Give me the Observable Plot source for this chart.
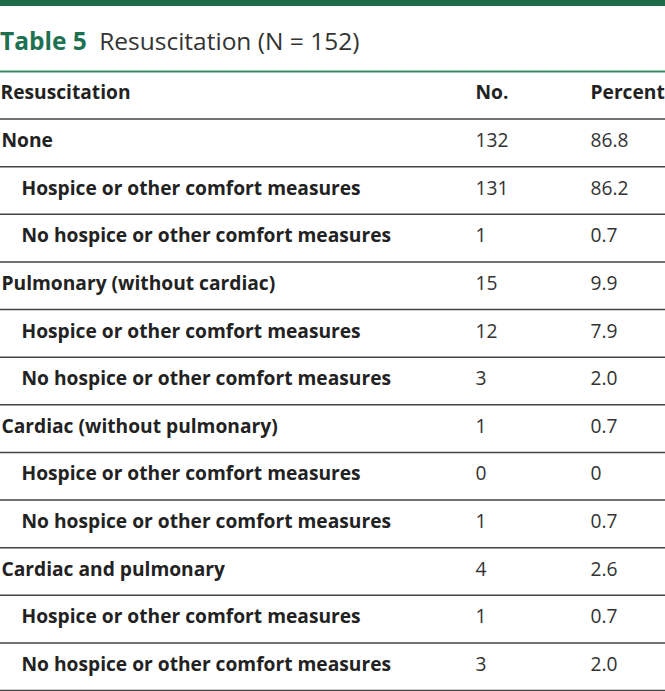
<!DOCTYPE html>
<html>
<head>
<meta charset="utf-8">
<script src="https://cdn.jsdelivr.net/npm/d3@7"></script>
<script src="https://cdn.jsdelivr.net/npm/@observablehq/plot@0.6"></script>
<style>
  html, body { margin: 0; padding: 0; background: #fff; }
  body { width: 665px; height: 691px; position: relative; overflow: hidden; font-family: "Open Sans", sans-serif; }
  .bar { position: absolute; left: 0; top: 0; width: 665px; height: 6px; background: #1c6b49; }
  .title { position: absolute; left: 0; top: 29px; font-size: 24.5px; line-height: 24px; color: #333; white-space: nowrap; }
  .title b { color: #1e7150; font-weight: 700; margin-right: 6px; }
  #chart { position: absolute; left: 0; top: 70px; }
</style>
</head>
<body>
<div class="bar"></div>
<div class="title"><b>Table 5</b> Resuscitation (N = 152)</div>
<div id="chart"></div>
<script>
const headers = ["Resuscitation", "No.", "Percent"];
const categories = [
  "None",
  "Hospice or other comfort measures",
  "No hospice or other comfort measures",
  "Pulmonary (without cardiac)",
  "Hospice or other comfort measures",
  "No hospice or other comfort measures",
  "Cardiac (without pulmonary)",
  "Hospice or other comfort measures",
  "No hospice or other comfort measures",
  "Cardiac and pulmonary",
  "Hospice or other comfort measures",
  "No hospice or other comfort measures"
];
const levels = [0, 1, 1, 0, 1, 1, 0, 1, 1, 0, 1, 1];
const counts = [132, 131, 1, 15, 12, 3, 1, 0, 1, 4, 1, 3];
const percents = [86.8, 86.2, 0.7, 9.9, 7.9, 2.0, 0.7, 0, 0.7, 2.6, 0.7, 2.0];

const rows = categories.map((c, i) => ({
  row: i + 1.5,
  label: c,
  level: levels[i],
  n: counts[i],
  pct: percents[i]
}));
const fmtPct = (v) => (v === 0 ? "0" : v.toFixed(1));
const nRows = rows.length + 1;

const font = "Open Sans";
const fs = 19.2;
const dy = -2;
const dark = "#222";
const num = "#333";

const chart = Plot.plot({
  width: 665,
  height: 621,
  marginTop: 1,
  marginBottom: 1,
  marginLeft: 0,
  marginRight: 0,
  y: { axis: null, domain: [0, nRows], reverse: true },
  x: { axis: null },
  style: { fontFamily: font, background: "#fff" },
  marks: [
    Plot.ruleY([0], { stroke: "#3a8a66", strokeWidth: 2 }),
    Plot.ruleY(d3.range(1, nRows + 1), { stroke: "#444", strokeWidth: 1.5 }),
    // header
    Plot.text([headers[0]], { y: () => 0.5, text: (d) => d, frameAnchor: "left", textAnchor: "start", dy, fontSize: fs, fontWeight: 700, fill: dark }),
    Plot.text([headers[1]], { y: () => 0.5, text: (d) => d, frameAnchor: "left", textAnchor: "start", dx: 475, dy, fontSize: fs, fontWeight: 700, fill: dark }),
    Plot.text([headers[2]], { y: () => 0.5, text: (d) => d, frameAnchor: "left", textAnchor: "start", dx: 590, dy, fontSize: fs, fontWeight: 700, fill: dark }),
    // labels
    Plot.text(rows.filter((d) => d.level === 0), { y: "row", text: "label", frameAnchor: "left", textAnchor: "start", dx: 1, dy, fontSize: fs, fontWeight: 700, fill: dark }),
    Plot.text(rows.filter((d) => d.level === 1), { y: "row", text: "label", frameAnchor: "left", textAnchor: "start", dx: 21, dy, fontSize: fs, fontWeight: 700, fill: dark }),
    // values
    Plot.text(rows, { y: "row", text: (d) => String(d.n), frameAnchor: "left", textAnchor: "start", dx: 475, dy, fontSize: fs, fill: num }),
    Plot.text(rows, { y: "row", text: (d) => fmtPct(d.pct), frameAnchor: "left", textAnchor: "start", dx: 590, dy, fontSize: fs, fill: num })
  ]
});
document.getElementById("chart").appendChild(chart);
</script>
</body>
</html>
